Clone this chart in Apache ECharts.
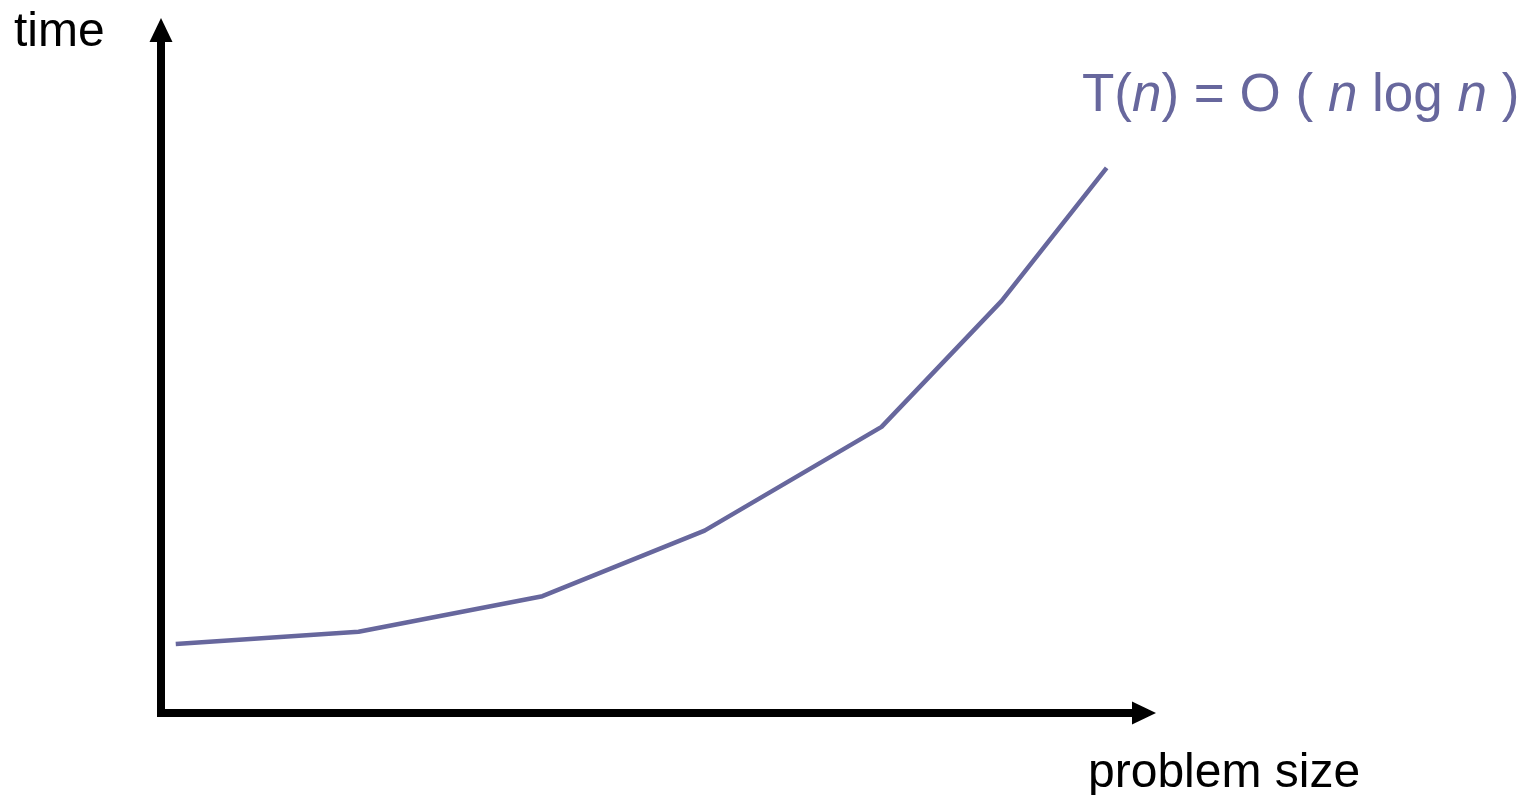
<!DOCTYPE html>
<html>
<head>
<meta charset="utf-8">
<title>T(n) = O(n log n)</title>
<script src="https://cdn.jsdelivr.net/npm/echarts@6/dist/echarts.min.js"></script>
<style>
  html, body { margin: 0; padding: 0; background: #ffffff; }
  #chart { width: 1525px; height: 795px; }
</style>
</head>
<body>
<div id="chart"></div>
<script>
// Problem size (arbitrary units) and running time for the n log n curve
const problemSize = [1.5, 20.1, 38.8, 55.3, 73.3, 85.5, 96.2];
const runTime = [10.1, 11.9, 17.1, 26.7, 41.9, 60.3, 79.8];

const xLabel = 'problem size';
const yLabel = 'time';

const curveColor = '#67679d';
const fontFamily = '"Liberation Sans", Arial, Helvetica, sans-serif';

const points = problemSize.map((x, i) => [x, runTime[i]]);

const chart = echarts.init(document.getElementById('chart'), null, { renderer: 'canvas' });

const hiddenAxisParts = {
  axisTick: { show: false },
  axisLabel: { show: false },
  splitLine: { show: false }
};

const axisLine = {
  show: true,
  symbol: ['none', 'triangle'],
  symbolSize: [23, 24],
  lineStyle: { color: '#000000', width: 8, cap: 'square' }
};

chart.setOption({
  backgroundColor: '#ffffff',
  animation: false,
  grid: { left: 161, right: 381, top: 30, bottom: 82 },
  xAxis: Object.assign({
    type: 'value', min: 0, max: 100,
    axisLine: axisLine
  }, hiddenAxisParts),
  yAxis: Object.assign({
    type: 'value', min: 0, max: 100,
    axisLine: axisLine
  }, hiddenAxisParts),
  series: [{
    type: 'line',
    data: points,
    symbol: 'none',
    smooth: false,
    lineStyle: { color: curveColor, width: 4.5 }
  }],
  graphic: [
    {
      type: 'text', left: 14, top: 9,
      style: { text: yLabel, font: '48px ' + fontFamily, fill: '#000000' }
    },
    {
      type: 'text', left: 1088, top: 750,
      style: { text: xLabel, font: '48px ' + fontFamily, fill: '#000000' }
    },
    {
      type: 'text', left: 1082, top: 70,
      style: {
        text: 'T({i|n}) = O ( {i|n} log {i|n} )',
        font: '53px ' + fontFamily,
        fill: curveColor,
        rich: {
          i: { fontStyle: 'italic', fontSize: 53, fontFamily: fontFamily, fill: curveColor }
        }
      }
    }
  ]
});
</script>
</body>
</html>
